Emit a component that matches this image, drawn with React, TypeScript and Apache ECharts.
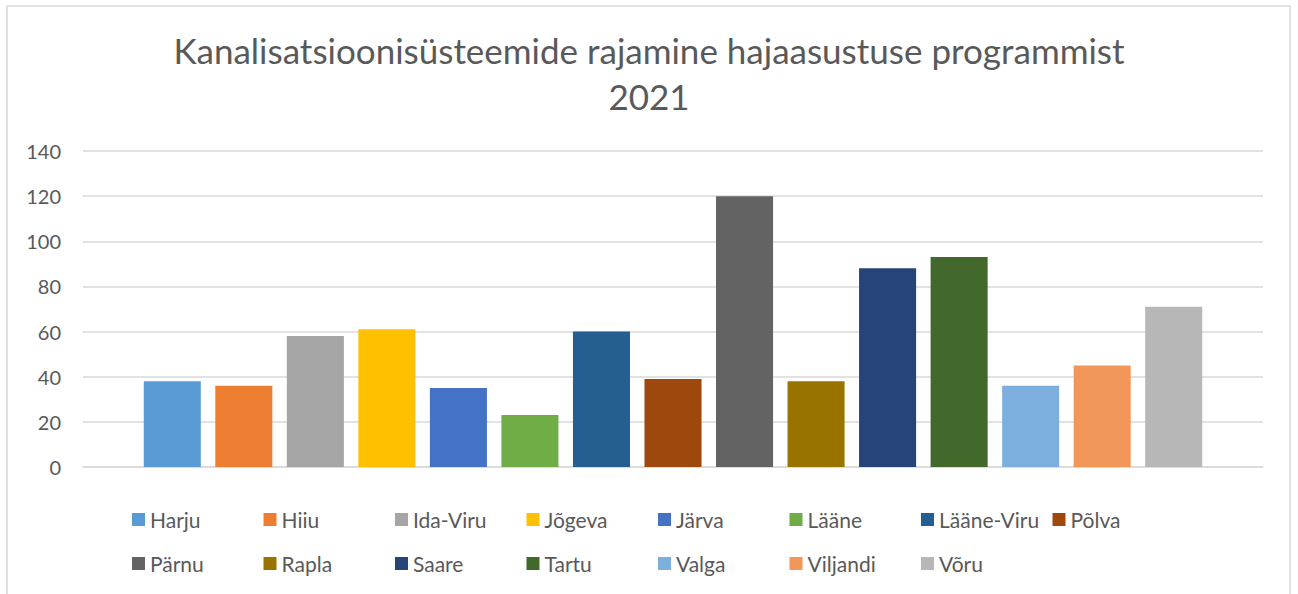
import React, { useEffect, useRef } from "react";
import * as echarts from "echarts";

const titleText = "Kanalisatsioonisüsteemide rajamine hajaasustuse programmist\n2021";
const regions = [
  "Harju", "Hiiu", "Ida-Viru", "Jõgeva", "Järva", "Lääne", "Lääne-Viru", "Põlva",
  "Pärnu", "Rapla", "Saare", "Tartu", "Valga", "Viljandi", "Võru",
];
const values = [38, 36, 58, 61, 35, 23, 60, 39, 120, 38, 88, 93, 36, 45, 71];
const colors = [
  "#5B9BD5", "#ED7D31", "#A5A5A5", "#FFC000", "#4472C4", "#70AD47", "#255E91", "#9E480E",
  "#636363", "#997300", "#264478", "#43682B", "#7CAFDD", "#F1975A", "#B7B7B7",
];
const yTicks = { min: 0, max: 140, interval: 20 };

const FONT = "Lato, 'Open Sans', sans-serif";
const TXT = "#595959";
const GRID = "#D9D9D9";

export default function App() {
  const ref = useRef<HTMLDivElement>(null);
  useEffect(() => {
    if (!ref.current) return;
    const chart = echarts.init(ref.current, undefined, { renderer: "svg" });
    const legendCommon = {
      left: 132,
      padding: 0,
      orient: "horizontal" as const,
      itemWidth: 13,
      itemHeight: 13,
      itemGap: 5.5,
      icon: "rect",
      textStyle: { color: TXT, fontSize: 21, fontFamily: FONT, width: 108, lineHeight: 20 },
    };
    chart.setOption({
      animation: false,
      backgroundColor: "#fff",
      textStyle: { fontFamily: FONT },
      title: {
        text: titleText,
        left: "center",
        top: 22,
        textStyle: { color: TXT, fontSize: 35, fontWeight: "normal", fontFamily: FONT, lineHeight: 46 },
      },
      graphic: [
        {
          type: "rect",
          shape: { x: 7, y: 6, width: 1283, height: 620 },
          style: { fill: "none", stroke: GRID, lineWidth: 1.5 },
          silent: true,
        },
      ],
      legend: [
        { ...legendCommon, top: 509, data: regions.slice(0, 8) },
        { ...legendCommon, top: 553, data: regions.slice(8) },
      ],
      grid: { left: 83, right: 35, top: 151, bottom: 127, containLabel: false },
      xAxis: {
        type: "category",
        data: ["2021"],
        axisLine: { show: true, lineStyle: { color: GRID, width: 1.5 } },
        axisTick: { show: false },
        axisLabel: { show: false },
      },
      yAxis: {
        type: "value",
        min: yTicks.min,
        max: yTicks.max,
        interval: yTicks.interval,
        axisLine: { show: false },
        axisTick: { show: false },
        axisLabel: { color: TXT, fontSize: 20, fontFamily: FONT, margin: 22 },
        splitLine: { lineStyle: { color: GRID, width: 1.5 } },
      },
      series: regions.map((name, i) => ({
        name,
        type: "bar",
        data: [values[i]],
        itemStyle: { color: colors[i] },
        barGap: "25.4%",
        barCategoryGap: "10.3%",
      })),
    });
    return () => chart.dispose();
  }, []);
  return (
    <div
      ref={ref}
      style={{ position: "absolute", left: 0, top: 0, width: 1298, height: 594 }}
    />
  );
}
